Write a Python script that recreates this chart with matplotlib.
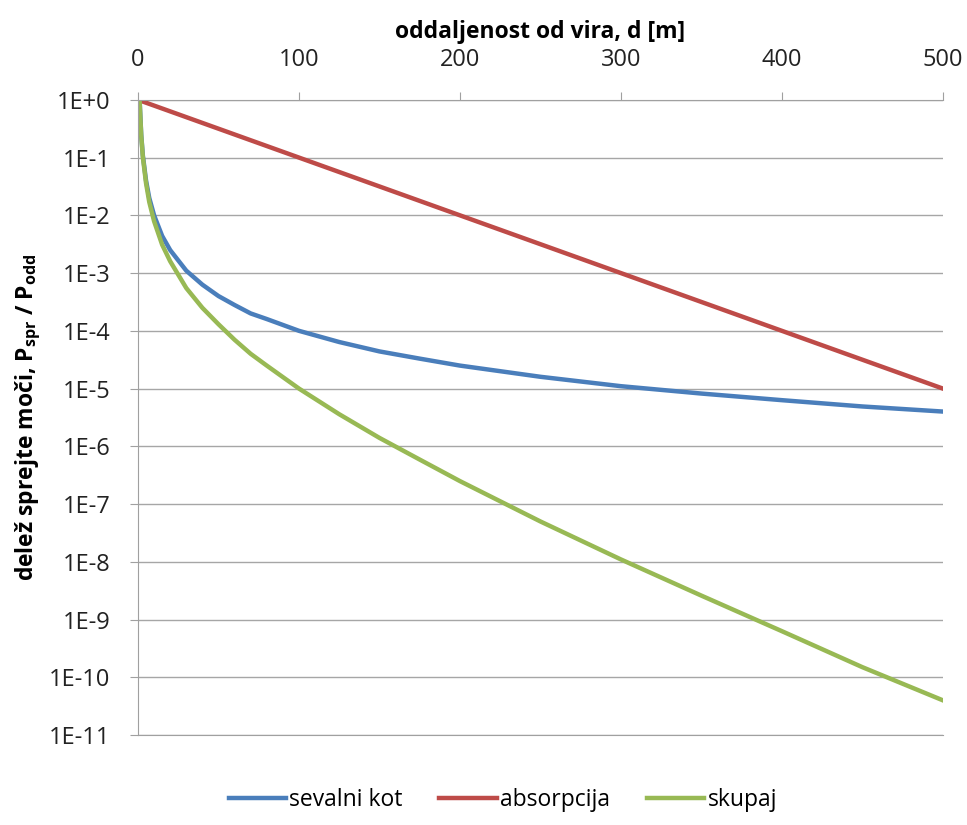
import matplotlib
matplotlib.use('Agg')
from matplotlib import pyplot as plt

# distance from source [m]
d_kot = [1, 2, 3, 5, 7, 10, 15, 20, 30, 40, 50, 60, 70, 80, 100, 125, 150, 175, 200,
         250, 300, 350, 400, 450, 500]
sevalni_kot = [1, 0.25, 0.11, 0.04, 0.02, 0.01, 4.4e-3, 2.5e-3, 1.1e-3, 6.3e-4, 4e-4, 2.8e-4,
               2e-4, 1.6e-4, 1e-4, 6.4e-5, 4.4e-5, 3.3e-5, 2.5e-5,
               1.6e-5, 1.1e-5, 8.2e-6, 6.3e-6, 4.9e-6, 4e-6]

d_abs = [0, 100, 200, 300, 400, 500]
absorpcija = [1, 0.1, 0.01, 1e-3, 1e-4, 1e-5]

skupaj = [0.977, 0.24, 0.103, 0.036, 0.017, 7.9e-3, 3.1e-3, 1.6e-3, 5.5e-4, 2.5e-4, 1.3e-4, 7e-5,
          4e-5, 2.5e-5, 1e-5, 3.6e-6, 1.4e-6, 5.9e-7, 2.5e-7,
          5e-8, 1.1e-8, 2.6e-9, 6.3e-10, 1.5e-10, 4e-11]

y_ticks = [10.0 ** -k for k in range(0, 12)]
y_labels = ['1E+0'] + ['1E-%d' % k for k in range(1, 12)]


def main():
    plt.rcParams['font.family'] = ['Open Sans', 'DejaVu Sans']
    plt.rcParams['mathtext.fontset'] = 'custom'
    plt.rcParams['mathtext.rm'] = 'Open Sans'
    plt.rcParams['mathtext.default'] = 'regular'

    fig = plt.figure(figsize=(9.67, 8.25), dpi=100)
    ax = fig.add_axes([0.1427, 0.109, 0.8323, 0.770])

    ax.plot(d_kot, sevalni_kot, color='#4A7EBB', lw=3.2, label='sevalni kot')
    ax.plot(d_abs, absorpcija, color='#BE4B48', lw=3.2, label='absorpcija')
    ax.plot(d_kot, skupaj, color='#98B954', lw=3.2, label='skupaj')

    ax.set_yscale('log')
    ax.set_ylim(1e-11, 1)
    ax.set_xlim(0, 500)
    ax.set_yticks(y_ticks)
    ax.set_yticklabels(y_labels)
    ax.minorticks_off()
    ax.set_xticks([0, 100, 200, 300, 400, 500])

    ax.xaxis.tick_top()
    ax.xaxis.set_label_position('top')
    ax.tick_params(axis='x', direction='out', length=6, color='#A0A0A0', labelsize=17,
                   labelcolor='#222222', pad=14)
    ax.tick_params(axis='y', direction='out', length=6, color='#A0A0A0', labelsize=17,
                   labelcolor='#222222', pad=14)

    ax.grid(axis='y', color='#A6A6A6', lw=1)
    ax.set_axisbelow(True)
    ax.spines['right'].set_visible(False)
    for s in ['left', 'top', 'bottom']:
        ax.spines[s].set_color('#A0A0A0')

    ax.set_xlabel('oddaljenost od vira, d [m]', fontsize=16.5, fontweight='bold', labelpad=7)
    ax.set_ylabel('delež sprejte moči, P$_{spr}$ / P$_{odd}$', fontsize=16.5,
                  fontweight='bold', labelpad=4)

    fig.legend(loc='center', ncol=3, frameon=False, fontsize=16.5,
               bbox_to_anchor=(0.52, 0.03), handlelength=2.5, handletextpad=0.15,
               columnspacing=1.6)

    fig.savefig('out.png', dpi=100)


if __name__ == '__main__':
    main()
